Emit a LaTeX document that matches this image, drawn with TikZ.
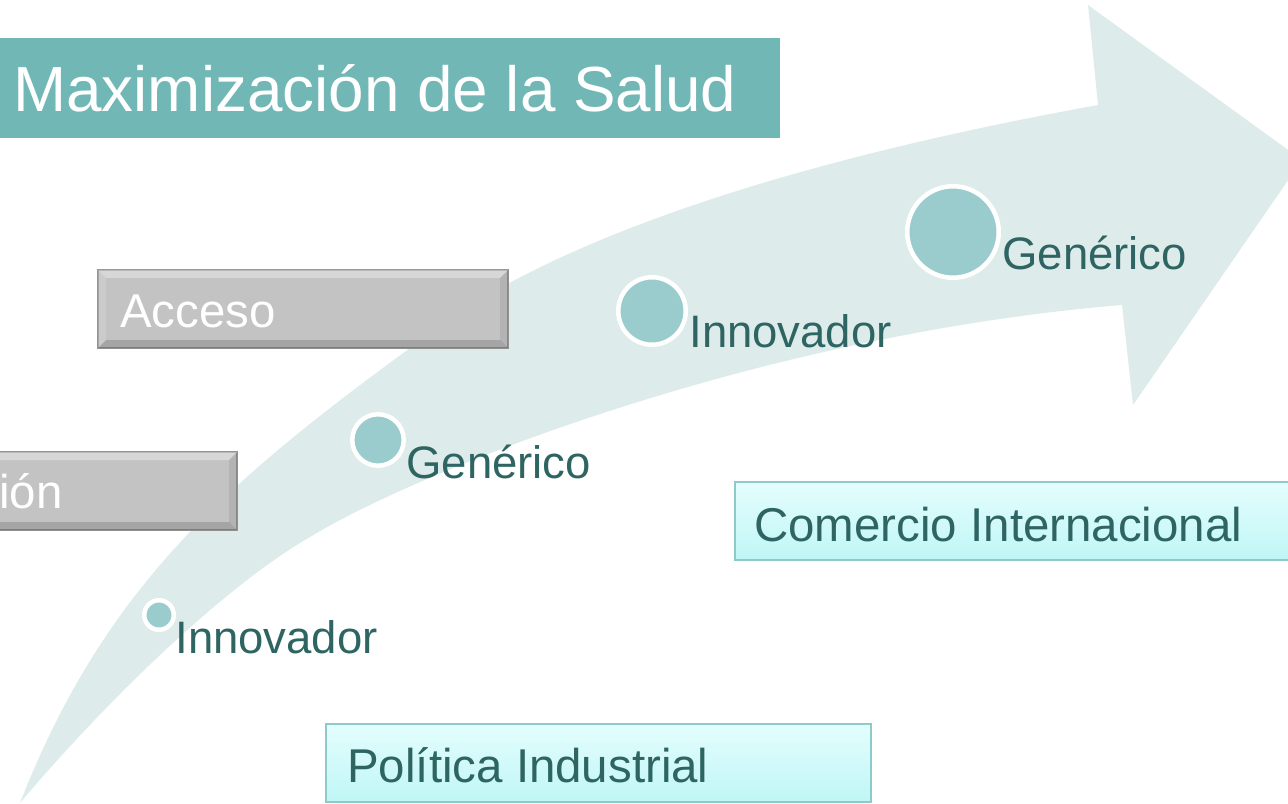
\documentclass[tikz,border=0pt]{standalone}
\usepackage{fontspec}
\setmainfont{Liberation Sans}
\usetikzlibrary{calc}
\usepackage{xcolor}
\definecolor{arrowfill}{HTML}{DDEBEA}
\definecolor{dotfill}{HTML}{9BCCCD}
\definecolor{labeltext}{HTML}{2E6562}
\definecolor{titlefill}{HTML}{71B7B6}
\definecolor{boxgray}{HTML}{C3C3C3}
\definecolor{cyantop}{HTML}{E4FDFD}
\definecolor{cyanbot}{HTML}{C0F6F6}
\definecolor{cyanline}{HTML}{8ECACA}
\newdimen\pxu \pxu=0.02cm
\tikzstyle{dot}=[circle,fill=dotfill,draw=white,line width=4.5\pxu,inner sep=0]
\tikzstyle{lbl}=[anchor=base west,inner sep=0,text=labeltext,font=\fontsize{25.9}{31}\selectfont]
\tikzstyle{graybox}=[anchor=north west,fill=boxgray,draw=gray!85,line width=1.2\pxu,inner sep=0,outer sep=0,minimum height=78\pxu]
\tikzstyle{cyanbox}=[anchor=north west,top color=cyantop,bottom color=cyanbot,draw=cyanline,line width=2\pxu,inner sep=0,outer sep=0,minimum height=78\pxu]
\tikzstyle{boxtext}=[anchor=base west,inner sep=0,font=\fontsize{27}{32}\selectfont]
% raised look of the gray boxes
\newcommand{\bevel}[1]{%
  \fill[white,opacity=0.35] (#1.north west) -- (#1.north east) -- ($(#1.north east)+(-8,8)$) -- ($(#1.north west)+(8,8)$) -- cycle;
  \fill[white,opacity=0.15] (#1.north west) -- ($(#1.north west)+(8,8)$) -- ($(#1.south west)+(8,-8)$) -- (#1.south west) -- cycle;
  \fill[black,opacity=0.15] (#1.south west) -- (#1.south east) -- ($(#1.south east)+(-8,-8)$) -- ($(#1.south west)+(8,-8)$) -- cycle;
  \fill[black,opacity=0.08] (#1.north east) -- (#1.south east) -- ($(#1.south east)+(-8,-8)$) -- ($(#1.north east)+(-8,8)$) -- cycle;}

\begin{document}
\begin{tikzpicture}[x=0.02cm,y=-0.02cm]
    \useasboundingbox (0,0) rectangle (1288,804);

    % big curved arrow
    \fill[arrowfill] (20,803) .. controls (105,585) and (230,480) .. (410,348)
        .. controls (560,225) and (850,150) .. (1098,105) -- (1088,5) -- (1302,160)
        -- (1133,405) -- (1122,305) .. controls (760,335) and (420,470) .. (310,537)
        .. controls (220,589) and (100,708) .. (20,803) -- cycle;

    % title
    \node[anchor=north west,fill=titlefill,inner sep=0,outer sep=0,minimum width=785\pxu,minimum height=100\pxu] (title) at (-5,38) {};
    \node[anchor=base west,inner sep=0,text=white,font=\fontsize{36.3}{43}\selectfont] (titletext) at (13,112) {Maximización de la Salud};

    % gray boxes
    \node[graybox,minimum width=410\pxu] (acceso) at (98,270) {};
    \bevel{acceso}
    \node[boxtext,text=white] (accesotext) at (120,327) {Acceso};
    \node[graybox,minimum width=247\pxu] (left) at (-10,452) {};
    \bevel{left}
    \node[boxtext,text=white] (lefttext) at (-1,508) {ión};

    % light boxes
    \node[cyanbox,minimum width=560\pxu] (comercio) at (735,482) {};
    \node[boxtext,text=labeltext] (comerciotext) at (754,541) {Comercio Internacional};
    \node[cyanbox,minimum width=545\pxu] (politica) at (326,724) {};
    \node[boxtext,text=labeltext] (politicatext) at (347,782) {Política Industrial};

    % dots on the arrow
    \node[dot,minimum size=29.5\pxu] (c1) at (159,615) {};
    \node[dot,minimum size=51.5\pxu] (c2) at (378,440) {};
    \node[dot,minimum size=67.5\pxu] (c3) at (652,311) {};
    \node[dot,minimum size=91.5\pxu] (c4) at (953,232) {};

    \node[lbl] (l1) at (175,653) {Innovador};
    \node[lbl] (l2) at (406,478) {Genérico};
    \node[lbl] (l3) at (689,347) {Innovador};
    \node[lbl] (l4) at (1002,270) {Genérico};

\end{tikzpicture}
\end{document}
